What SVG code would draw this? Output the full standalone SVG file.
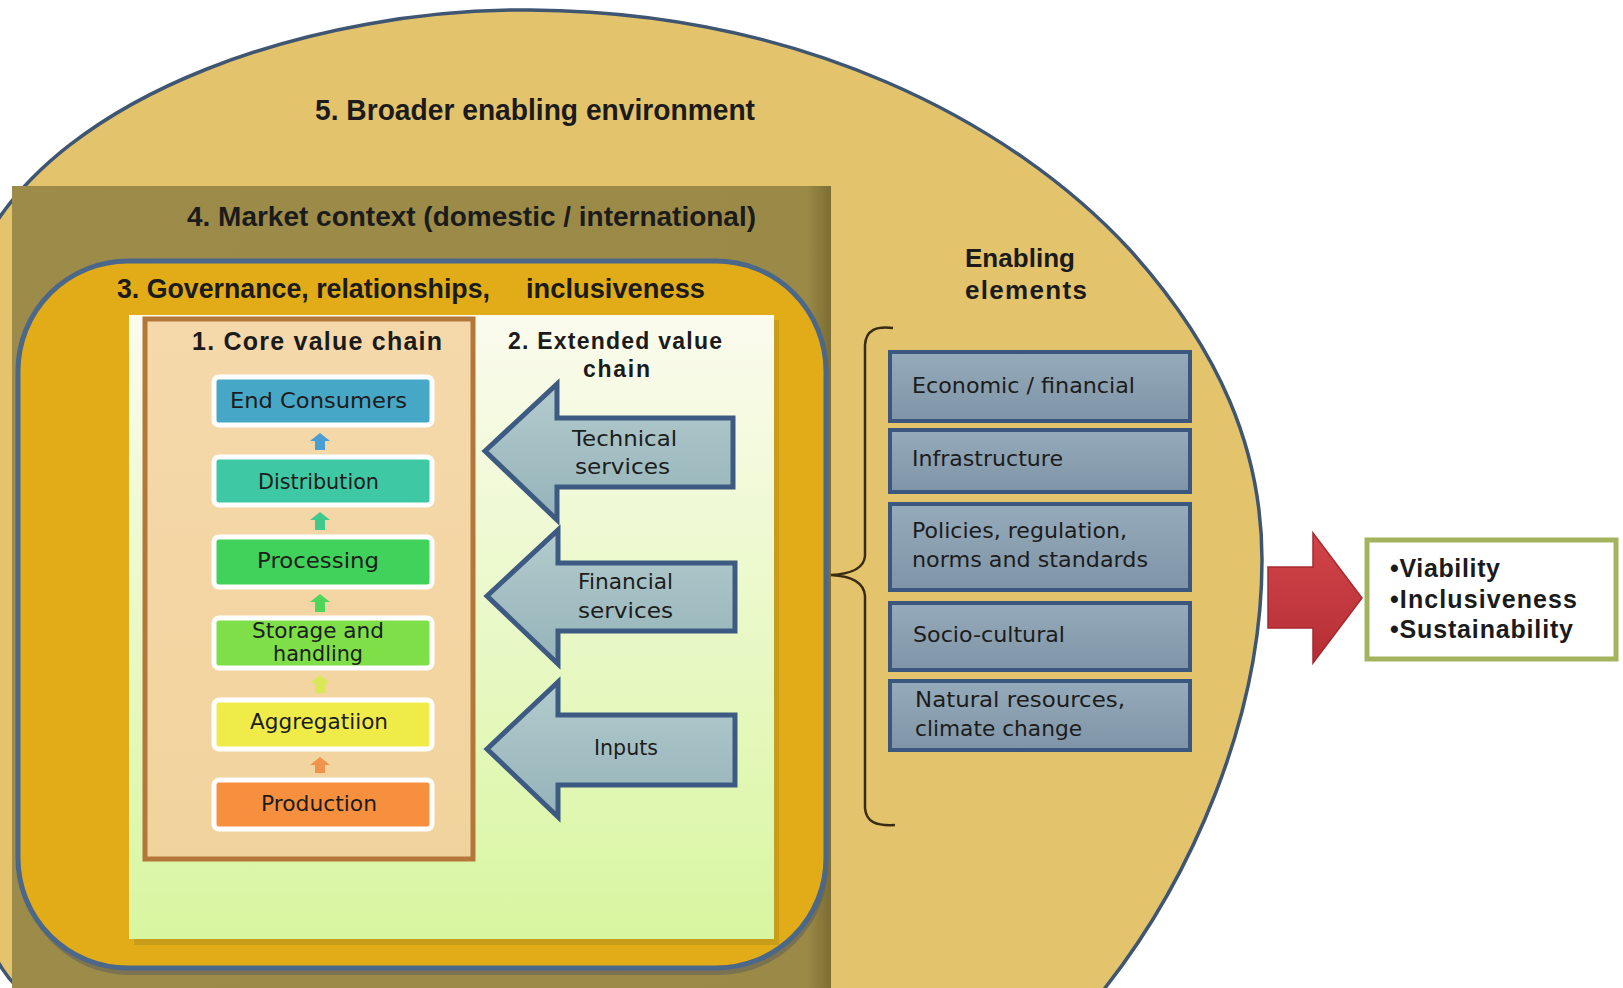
<svg xmlns="http://www.w3.org/2000/svg" width="1623" height="988" viewBox="0 0 1623 988">
<defs>
<linearGradient id="panelGrad" x1="0" y1="0" x2="0" y2="1"><stop offset="0" stop-color="#fbfbee"/><stop offset="1" stop-color="#d8f6a0"/></linearGradient>
<linearGradient id="coreGrad" x1="0" y1="0" x2="0" y2="1"><stop offset="0" stop-color="#f6d9ab"/><stop offset="1" stop-color="#f0d39c"/></linearGradient>
<linearGradient id="svcGrad" x1="0" y1="0" x2="0" y2="1"><stop offset="0" stop-color="#b3cbcd"/><stop offset="1" stop-color="#94b3b9"/></linearGradient>
<linearGradient id="enGrad" x1="0" y1="0" x2="0" y2="1"><stop offset="0" stop-color="#95aaba"/><stop offset="1" stop-color="#7f95a7"/></linearGradient>
<linearGradient id="redGrad" x1="0" y1="0" x2="0" y2="1"><stop offset="0" stop-color="#d2454a"/><stop offset="1" stop-color="#b52e34"/></linearGradient>
<linearGradient id="mktGrad" x1="0" y1="0" x2="1" y2="0"><stop offset="0" stop-color="#9c8b49"/><stop offset="0.97" stop-color="#9b8a47"/><stop offset="1" stop-color="#7c6d34"/></linearGradient>
</defs>
<style>
.hdr{font-family:"Liberation Sans Narrow","Liberation Sans",Arial,sans-serif;font-weight:bold;fill:#1b1b1b}
.bold{font-family:"Liberation Sans",Arial,sans-serif;font-weight:bold;fill:#1b1b1b}
.lbl{font-family:"DejaVu Sans",Verdana,sans-serif;fill:#1c1c1c;font-size:21px}
.item{stroke:#ffffff;stroke-width:5}
.svc{fill:url(#svcGrad);stroke:#3d5a82;stroke-width:5;stroke-linejoin:miter}
.en{fill:url(#enGrad);stroke:#3b5780;stroke-width:4}
</style>
<rect x="0" y="0" width="1623" height="988" fill="#ffffff"/>

<g id="env">
<path d="M -20,250 C 60,90 320,8 530,10 C 800,12 1010,120 1130,250 C 1220,350 1262,450 1262,560 C 1262,720 1190,880 1105,988 L 1095,1005 L 40,1005 C 15,990 -5,965 -15,930 Z" fill="#e4c36d" stroke="#3f5673" stroke-width="3.5"/>
<text class="hdr" x="315" y="120" font-size="30" textLength="440" lengthAdjust="spacingAndGlyphs">5.  Broader enabling  environment</text>
</g>

<g id="market">
<rect x="12" y="186" width="819" height="810" fill="url(#mktGrad)"/>
<text class="hdr" x="187" y="226" font-size="28" textLength="569" lengthAdjust="spacingAndGlyphs">4.  Market context (domestic / international)</text>
</g>

<g id="governance">
<rect x="18" y="261" width="808" height="710" rx="110" ry="110" fill="#5c5c58" opacity="0.5" transform="translate(2,4)"/>
<rect x="18" y="261" width="808" height="707" rx="110" ry="110" fill="#e1ac18" stroke="#4b6789" stroke-width="5"/>
<text class="hdr" y="298" font-size="28"><tspan x="117" textLength="373" lengthAdjust="spacingAndGlyphs">3. Governance,  relationships,</tspan><tspan x="526" textLength="179" lengthAdjust="spacingAndGlyphs">inclusiveness</tspan></text>
</g>

<g id="panel">
<rect x="134" y="320" width="645" height="625" fill="#b8921a" opacity="0.6"/>
<rect x="129" y="315" width="645" height="624" fill="url(#panelGrad)"/>
</g>

<g id="core">
<rect x="145" y="319" width="328" height="540" fill="url(#coreGrad)" stroke="#b3773a" stroke-width="5"/>
<text class="bold" x="192" y="350" font-size="25" textLength="250">1. Core value chain</text>
</g>

<g id="end-consumers">
<rect class="item" x="214" y="377" width="218" height="48" rx="5" fill="#47a7c6"/>
<text class="lbl" x="230" y="408" textLength="177" lengthAdjust="spacingAndGlyphs">End Consumers</text>
</g>
<g id="distribution">
<rect class="item" x="214" y="457" width="218" height="48" rx="5" fill="#3fc8a4"/>
<text class="lbl" x="258" y="489" textLength="121" lengthAdjust="spacingAndGlyphs">Distribution</text>
</g>
<g id="processing">
<rect class="item" x="214" y="537" width="218" height="50" rx="5" fill="#40d25a"/>
<text class="lbl" x="257" y="568" textLength="122" lengthAdjust="spacingAndGlyphs">Processing</text>
</g>
<g id="storage">
<rect class="item" x="214" y="618" width="218" height="50" rx="5" fill="#7fdf49"/>
<text class="lbl" x="252" y="638" textLength="132" lengthAdjust="spacingAndGlyphs">Storage and</text>
<text class="lbl" x="273" y="661" textLength="90" lengthAdjust="spacingAndGlyphs">handling</text>
</g>
<g id="aggregation">
<rect class="item" x="214" y="700" width="218" height="49" rx="5" fill="#efec4a"/>
<text class="lbl" x="250" y="729" textLength="138" lengthAdjust="spacingAndGlyphs">Aggregatiion</text>
</g>
<g id="production">
<rect class="item" x="214" y="780" width="218" height="49" rx="5" fill="#f6903f"/>
<text class="lbl" x="261" y="811" textLength="116" lengthAdjust="spacingAndGlyphs">Production</text>
</g>

<g id="extended">
<text class="bold" x="508" y="349" font-size="23" textLength="214">2. Extended value</text>
<text class="bold" x="583" y="377" font-size="23" textLength="67">chain</text>
</g>
<g id="technical-services">
<polygon class="svc" points="485,451 557,384 557,418 733,418 733,487 557,487 557,520"/>
<text class="lbl" x="572" y="446" textLength="105" lengthAdjust="spacingAndGlyphs">Technical</text>
<text class="lbl" x="575" y="474" textLength="95" lengthAdjust="spacingAndGlyphs">services</text>
</g>
<g id="financial-services">
<polygon class="svc" points="487,596 558,530 558,563 735,563 735,631 558,631 558,664"/>
<text class="lbl" x="578" y="589" textLength="95" lengthAdjust="spacingAndGlyphs">Financial</text>
<text class="lbl" x="578" y="618" textLength="95" lengthAdjust="spacingAndGlyphs">services</text>
</g>
<g id="inputs">
<polygon class="svc" points="487,749 558,682 558,715 735,715 735,785 558,785 558,817"/>
<text class="lbl" x="594" y="755" textLength="64" lengthAdjust="spacingAndGlyphs">Inputs</text>
</g>

<g id="enabling">
<text class="bold" x="965" y="267" font-size="26" textLength="110">Enabling</text>
<text class="bold" x="965" y="299" font-size="26" textLength="122">elements</text>
<path d="M 893,328 C 876,326 866,330 865,345 L 865,556 C 864,569 850,574 831,575 C 850,576 864,582 865,596 L 865,808 C 866,822 876,826 895,825" fill="none" stroke="#3a2c12" stroke-width="2.5"/>
</g>
<g id="economic">
<rect class="en" x="890" y="352" width="300" height="69"/>
<text class="lbl" x="912" y="393" textLength="223" lengthAdjust="spacingAndGlyphs">Economic / financial</text>
</g>
<g id="infrastructure">
<rect class="en" x="890" y="430" width="300" height="62"/>
<text class="lbl" x="912" y="466" textLength="151" lengthAdjust="spacingAndGlyphs">Infrastructure</text>
</g>
<g id="policies">
<rect class="en" x="890" y="504" width="300" height="86"/>
<text class="lbl" x="912" y="538" textLength="215" lengthAdjust="spacingAndGlyphs">Policies, regulation,</text>
<text class="lbl" x="912" y="567" textLength="236" lengthAdjust="spacingAndGlyphs">norms and standards</text>
</g>
<g id="socio-cultural">
<rect class="en" x="890" y="603" width="300" height="67"/>
<text class="lbl" x="913" y="642" textLength="152" lengthAdjust="spacingAndGlyphs">Socio-cultural</text>
</g>
<g id="natural">
<rect class="en" x="890" y="681" width="300" height="69"/>
<text class="lbl" x="915" y="707" textLength="210" lengthAdjust="spacingAndGlyphs">Natural resources,</text>
<text class="lbl" x="915" y="736" textLength="167" lengthAdjust="spacingAndGlyphs">climate  change</text>
</g>

<g id="outcomes">
<rect x="1367" y="540" width="249" height="119" fill="#ffffff" stroke="#a3b35e" stroke-width="5"/>
<text class="bold" x="1390" y="577" font-size="25" textLength="110">•Viability</text>
<text class="bold" x="1390" y="608" font-size="25" textLength="187">•Inclusiveness</text>
<text class="bold" x="1390" y="638" font-size="25" textLength="183">•Sustainability</text>
</g>

<g id="connectors">
<polygon points="320,433 330,441 325,441 325,450 315,450 315,441 310,441" fill="#4a9fd2"/>
<polygon points="320,512 330,520 325,520 325,530 315,530 315,520 310,520" fill="#40c98c"/>
<polygon points="320,594 330,602 325,602 325,612 315,612 315,602 310,602" fill="#4fd65a"/>
<polygon points="320,675 330,683 325,683 325,693 315,693 315,683 310,683" fill="#d8e955"/>
<polygon points="320,757 330,765 325,765 325,773 315,773 315,765 310,765" fill="#f0934c"/>
<polygon points="1268,567 1313,567 1313,533 1362,598 1313,663 1313,628 1268,628" fill="url(#redGrad)" stroke="#a8282e" stroke-width="1.5"/>
</g>
</svg>
